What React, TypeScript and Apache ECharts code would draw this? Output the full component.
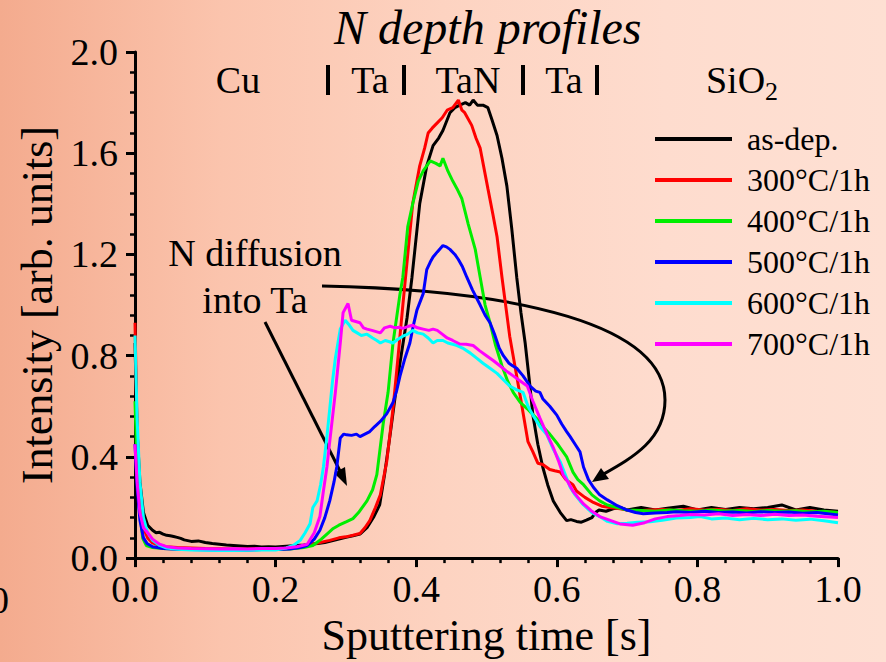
import React, { useEffect, useRef } from "react";
import * as echarts from "echarts";

const FONT = "'Liberation Serif', 'Times New Roman', serif";

const seriesNames = ["as-dep.", "300°C/1h", "400°C/1h", "500°C/1h", "600°C/1h", "700°C/1h"];
const seriesColors = ["#000000", "#ff0000", "#00ee00", "#0000ff", "#00ffff", "#ff00ff"];

const xTicks = [0, 0.2, 0.4, 0.6, 0.8, 1.0];
const yTicks = [0, 0.4, 0.8, 1.2, 1.6, 2.0];

const asDep: number[][] = [
  [0, 0.85], [0.003, 0.5], [0.007, 0.3], [0.012, 0.18], [0.018, 0.13], [0.025, 0.11], [0.03, 0.1],
  [0.035, 0.102], [0.04, 0.095], [0.045, 0.09], [0.05, 0.088], [0.055, 0.085], [0.06, 0.082], [0.065, 0.078],
  [0.07, 0.072], [0.08, 0.066], [0.09, 0.068], [0.1, 0.062], [0.11, 0.058], [0.12, 0.055], [0.13, 0.052],
  [0.14, 0.05], [0.15, 0.048], [0.16, 0.046], [0.17, 0.047], [0.18, 0.044], [0.19, 0.045], [0.2, 0.044],
  [0.21, 0.046], [0.22, 0.048], [0.23, 0.05], [0.24, 0.052], [0.25, 0.055], [0.26, 0.058], [0.27, 0.062],
  [0.28, 0.068], [0.29, 0.075], [0.3, 0.082], [0.31, 0.088], [0.32, 0.095], [0.33, 0.12], [0.34, 0.165],
  [0.348, 0.21], [0.355, 0.33], [0.363, 0.49], [0.374, 0.72], [0.387, 0.95], [0.394, 1.11], [0.405, 1.4],
  [0.415, 1.55], [0.424, 1.63], [0.432, 1.66], [0.438, 1.69], [0.448, 1.76], [0.455, 1.78], [0.462, 1.79],
  [0.47, 1.8], [0.476, 1.79], [0.481, 1.81], [0.487, 1.79], [0.495, 1.79], [0.502, 1.78], [0.508, 1.73],
  [0.515, 1.67], [0.522, 1.58], [0.529, 1.47], [0.536, 1.3], [0.543, 1.11], [0.549, 0.97], [0.555, 0.85],
  [0.561, 0.7], [0.566, 0.565], [0.573, 0.45], [0.58, 0.36], [0.587, 0.29], [0.595, 0.226], [0.605, 0.18],
  [0.614, 0.148], [0.62, 0.152], [0.628, 0.145], [0.635, 0.142], [0.642, 0.15], [0.65, 0.16], [0.655, 0.18],
  [0.66, 0.19], [0.67, 0.185], [0.68, 0.195], [0.69, 0.2], [0.7, 0.19], [0.72, 0.2], [0.74, 0.19],
  [0.76, 0.198], [0.78, 0.205], [0.8, 0.19], [0.82, 0.2], [0.84, 0.192], [0.86, 0.2], [0.88, 0.195],
  [0.9, 0.2], [0.92, 0.21], [0.94, 0.19], [0.96, 0.2], [0.98, 0.19], [1.0, 0.185],
];

const c300: number[][] = [
  [0, 0.93], [0.003, 0.5], [0.007, 0.25], [0.012, 0.12], [0.018, 0.08], [0.025, 0.06], [0.035, 0.05],
  [0.045, 0.045], [0.06, 0.042], [0.08, 0.04], [0.1, 0.038], [0.12, 0.037], [0.14, 0.036], [0.16, 0.036],
  [0.18, 0.037], [0.2, 0.036], [0.22, 0.038], [0.235, 0.042], [0.245, 0.05], [0.26, 0.06], [0.277, 0.07],
  [0.29, 0.08], [0.3, 0.084], [0.31, 0.09], [0.32, 0.097], [0.327, 0.12], [0.334, 0.148], [0.342, 0.2],
  [0.349, 0.25], [0.358, 0.38], [0.367, 0.59], [0.374, 0.79], [0.381, 1.0], [0.388, 1.2], [0.395, 1.4],
  [0.405, 1.55], [0.412, 1.62], [0.417, 1.68], [0.423, 1.7], [0.43, 1.72], [0.437, 1.74], [0.444, 1.77],
  [0.452, 1.78], [0.46, 1.81], [0.465, 1.77], [0.469, 1.76], [0.479, 1.71], [0.485, 1.66], [0.491, 1.62],
  [0.502, 1.46], [0.509, 1.36], [0.515, 1.27], [0.522, 1.11], [0.533, 0.877], [0.541, 0.75], [0.548, 0.64],
  [0.559, 0.46], [0.566, 0.42], [0.573, 0.375], [0.58, 0.37], [0.59, 0.35], [0.597, 0.345], [0.605, 0.34],
  [0.613, 0.31], [0.623, 0.29], [0.628, 0.265], [0.64, 0.24], [0.652, 0.22], [0.664, 0.205], [0.676, 0.2],
  [0.69, 0.195], [0.71, 0.185], [0.73, 0.19], [0.75, 0.192], [0.77, 0.188], [0.79, 0.195], [0.81, 0.19],
  [0.83, 0.193], [0.85, 0.188], [0.87, 0.195], [0.89, 0.19], [0.91, 0.192], [0.93, 0.188], [0.95, 0.19],
  [0.97, 0.185], [1.0, 0.18],
];

const c400: number[][] = [
  [0, 0.62], [0.003, 0.35], [0.007, 0.18], [0.011, 0.078], [0.016, 0.05], [0.025, 0.042], [0.04, 0.038],
  [0.06, 0.036], [0.08, 0.035], [0.1, 0.034], [0.12, 0.033], [0.14, 0.034], [0.16, 0.033], [0.18, 0.034],
  [0.2, 0.035], [0.22, 0.036], [0.24, 0.042], [0.253, 0.05], [0.265, 0.075], [0.275, 0.1], [0.282, 0.117],
  [0.29, 0.13], [0.301, 0.144], [0.31, 0.156], [0.318, 0.18], [0.33, 0.226], [0.338, 0.27], [0.344, 0.33],
  [0.353, 0.53], [0.36, 0.655], [0.367, 0.85], [0.377, 1.045], [0.381, 1.11], [0.388, 1.31], [0.395, 1.4],
  [0.403, 1.49], [0.41, 1.53], [0.42, 1.57], [0.428, 1.56], [0.434, 1.55], [0.438, 1.58], [0.445, 1.53],
  [0.452, 1.49], [0.458, 1.46], [0.465, 1.42], [0.474, 1.32], [0.484, 1.22], [0.491, 1.11], [0.498, 1.0],
  [0.505, 0.93], [0.513, 0.84], [0.522, 0.76], [0.53, 0.7], [0.538, 0.655], [0.548, 0.615], [0.558, 0.59],
  [0.565, 0.57], [0.572, 0.55], [0.58, 0.52], [0.59, 0.49], [0.6, 0.455], [0.609, 0.42], [0.614, 0.4],
  [0.623, 0.34], [0.63, 0.31], [0.638, 0.29], [0.65, 0.25], [0.661, 0.226], [0.672, 0.21], [0.686, 0.2],
  [0.7, 0.19], [0.72, 0.188], [0.74, 0.185], [0.76, 0.19], [0.78, 0.187], [0.8, 0.185], [0.82, 0.19],
  [0.84, 0.186], [0.86, 0.188], [0.88, 0.184], [0.9, 0.188], [0.92, 0.185], [0.94, 0.187], [0.96, 0.183],
  [0.98, 0.185], [1.0, 0.18],
];

const c500: number[][] = [
  [0, 0.45], [0.003, 0.28], [0.007, 0.15], [0.012, 0.08], [0.017, 0.058], [0.025, 0.045], [0.04, 0.038],
  [0.06, 0.035], [0.08, 0.034], [0.1, 0.033], [0.12, 0.032], [0.14, 0.033], [0.16, 0.032], [0.18, 0.034],
  [0.2, 0.034], [0.22, 0.036], [0.235, 0.042], [0.245, 0.05], [0.255, 0.075], [0.263, 0.11], [0.27, 0.16],
  [0.277, 0.226], [0.283, 0.3], [0.287, 0.36], [0.292, 0.475], [0.297, 0.49], [0.301, 0.487], [0.308, 0.485],
  [0.315, 0.49], [0.32, 0.48], [0.327, 0.49], [0.334, 0.5], [0.341, 0.52], [0.349, 0.54], [0.358, 0.57],
  [0.367, 0.615], [0.372, 0.66], [0.377, 0.72], [0.384, 0.79], [0.391, 0.85], [0.396, 0.92], [0.401, 0.98],
  [0.41, 1.045], [0.415, 1.14], [0.42, 1.17], [0.424, 1.19], [0.43, 1.21], [0.438, 1.235], [0.443, 1.23],
  [0.448, 1.22], [0.455, 1.2], [0.46, 1.18], [0.466, 1.15], [0.472, 1.11], [0.48, 1.06], [0.491, 1.0],
  [0.498, 0.96], [0.505, 0.93], [0.512, 0.88], [0.518, 0.83], [0.524, 0.8], [0.532, 0.77], [0.537, 0.76],
  [0.543, 0.75], [0.552, 0.72], [0.562, 0.68], [0.57, 0.66], [0.576, 0.655], [0.58, 0.63], [0.59, 0.6],
  [0.6, 0.565], [0.607, 0.53], [0.614, 0.5], [0.619, 0.48], [0.626, 0.45], [0.633, 0.42], [0.638, 0.36],
  [0.645, 0.31], [0.652, 0.28], [0.661, 0.25], [0.672, 0.23], [0.686, 0.207], [0.7, 0.19], [0.712, 0.18],
  [0.723, 0.175], [0.74, 0.178], [0.757, 0.18], [0.77, 0.183], [0.79, 0.18], [0.81, 0.185], [0.83, 0.18],
  [0.85, 0.182], [0.87, 0.178], [0.89, 0.183], [0.91, 0.18], [0.93, 0.182], [0.95, 0.177], [0.97, 0.18],
  [1.0, 0.17],
];

const c600: number[][] = [
  [0, 0.88], [0.003, 0.55], [0.007, 0.3], [0.012, 0.16], [0.018, 0.1], [0.025, 0.07], [0.035, 0.05],
  [0.045, 0.04], [0.06, 0.035], [0.08, 0.032], [0.1, 0.031], [0.12, 0.03], [0.14, 0.03], [0.16, 0.031],
  [0.18, 0.032], [0.2, 0.032], [0.215, 0.04], [0.225, 0.05], [0.235, 0.07], [0.242, 0.1], [0.249, 0.136],
  [0.253, 0.2], [0.259, 0.226], [0.264, 0.29], [0.268, 0.36], [0.273, 0.48], [0.277, 0.59], [0.281, 0.7],
  [0.285, 0.79], [0.292, 0.905], [0.299, 0.94], [0.305, 0.92], [0.31, 0.9], [0.316, 0.89], [0.322, 0.88],
  [0.33, 0.885], [0.338, 0.87], [0.344, 0.86], [0.349, 0.85], [0.356, 0.86], [0.362, 0.855], [0.367, 0.85],
  [0.374, 0.865], [0.381, 0.877], [0.388, 0.885], [0.395, 0.9], [0.402, 0.89], [0.41, 0.885], [0.417, 0.87],
  [0.424, 0.85], [0.43, 0.86], [0.438, 0.86], [0.445, 0.85], [0.452, 0.845], [0.458, 0.84], [0.466, 0.83],
  [0.477, 0.81], [0.486, 0.79], [0.495, 0.77], [0.505, 0.75], [0.515, 0.73], [0.524, 0.705], [0.533, 0.68],
  [0.543, 0.665], [0.552, 0.655], [0.559, 0.6], [0.566, 0.565], [0.576, 0.52], [0.586, 0.487], [0.595, 0.43],
  [0.605, 0.38], [0.612, 0.33], [0.619, 0.28], [0.626, 0.25], [0.633, 0.226], [0.638, 0.21], [0.65, 0.18],
  [0.661, 0.164], [0.672, 0.145], [0.686, 0.136], [0.7, 0.138], [0.715, 0.142], [0.733, 0.144], [0.75, 0.15],
  [0.77, 0.158], [0.79, 0.16], [0.804, 0.164], [0.82, 0.155], [0.84, 0.158], [0.86, 0.152], [0.88, 0.157],
  [0.9, 0.152], [0.92, 0.155], [0.94, 0.15], [0.96, 0.154], [0.98, 0.148], [1.0, 0.14],
];

const c700: number[][] = [
  [0, 0.45], [0.003, 0.3], [0.007, 0.18], [0.012, 0.12], [0.018, 0.1], [0.025, 0.075], [0.035, 0.055],
  [0.045, 0.045], [0.06, 0.04], [0.08, 0.038], [0.1, 0.037], [0.12, 0.036], [0.14, 0.037], [0.16, 0.036],
  [0.18, 0.038], [0.2, 0.038], [0.215, 0.04], [0.23, 0.045], [0.245, 0.055], [0.255, 0.1], [0.263, 0.164],
  [0.268, 0.265], [0.273, 0.36], [0.277, 0.46], [0.285, 0.655], [0.292, 0.85], [0.296, 0.97], [0.303, 1.006],
  [0.308, 0.94], [0.314, 0.935], [0.32, 0.93], [0.325, 0.91], [0.33, 0.905], [0.337, 0.9], [0.343, 0.895],
  [0.349, 0.89], [0.355, 0.91], [0.363, 0.916], [0.37, 0.91], [0.376, 0.912], [0.381, 0.908], [0.388, 0.915],
  [0.395, 0.92], [0.402, 0.91], [0.41, 0.905], [0.418, 0.9], [0.424, 0.905], [0.43, 0.9], [0.437, 0.885],
  [0.444, 0.87], [0.452, 0.86], [0.462, 0.846], [0.471, 0.845], [0.481, 0.84], [0.49, 0.82], [0.5, 0.8],
  [0.51, 0.78], [0.519, 0.76], [0.528, 0.74], [0.538, 0.72], [0.548, 0.7], [0.558, 0.68], [0.566, 0.62],
  [0.576, 0.553], [0.586, 0.49], [0.595, 0.437], [0.603, 0.38], [0.609, 0.33], [0.616, 0.3], [0.623, 0.265],
  [0.63, 0.24], [0.638, 0.214], [0.65, 0.185], [0.661, 0.164], [0.675, 0.15], [0.69, 0.135], [0.708, 0.13],
  [0.725, 0.14], [0.74, 0.155], [0.757, 0.164], [0.775, 0.168], [0.79, 0.172], [0.81, 0.17], [0.83, 0.175],
  [0.85, 0.168], [0.87, 0.172], [0.89, 0.168], [0.91, 0.173], [0.93, 0.168], [0.95, 0.17], [0.97, 0.165],
  [1.0, 0.16],
];

const seriesData = [asDep, c300, c400, c500, c600, c700];

const layerLabels = [
  { text: "Cu", x: 238 },
  { text: "Ta", x: 370 },
  { text: "TaN", x: 468 },
  { text: "Ta", x: 564 },
];
const layerBars = [328, 404, 523, 597];

function App() {
  const ref = useRef<HTMLDivElement>(null);

  useEffect(() => {
    document.body.style.margin = "0";
    if (!ref.current) return;
    const chart = echarts.init(ref.current, undefined, { renderer: "svg" });

    const axisCommon = {
      axisLine: { show: true, lineStyle: { color: "#000", width: 3 } },
      axisTick: { show: true, inside: false, length: 9, lineStyle: { color: "#000", width: 3 } },
      minorTick: { show: true, splitNumber: 5, length: 5, lineStyle: { color: "#000", width: 2.5 } },
      splitLine: { show: false },
      minorSplitLine: { show: false },
      nameTextStyle: { fontFamily: FONT, fontSize: 44, color: "#000" },
    };

    const graphics: any[] = [
      {
        type: "text",
        left: 334,
        top: 3,
        style: { text: "N depth profiles", fontFamily: FONT, fontSize: 48, fontStyle: "italic", fill: "#000" },
      },
      ...layerLabels.map((l) => ({
        type: "text",
        x: l.x,
        y: 80,
        style: { text: l.text, fontFamily: FONT, fontSize: 38, fill: "#000", align: "center", verticalAlign: "middle" },
      })),
      {
        type: "text",
        x: 742,
        y: 80,
        style: {
          text: "{a|SiO}{b|2}",
          fontFamily: FONT,
          align: "center",
          verticalAlign: "middle",
          rich: {
            a: { fontFamily: FONT, fontSize: 38, fill: "#000" },
            b: { fontFamily: FONT, fontSize: 26, fill: "#000", padding: [22, 0, 0, 0] },
          },
        },
      },
      ...layerBars.map((x) => ({
        type: "line",
        shape: { x1: x, y1: 65, x2: x, y2: 95 },
        style: { stroke: "#000", lineWidth: 4 },
      })),
      {
        type: "text",
        x: 255,
        y: 253,
        style: { text: "N diffusion", fontFamily: FONT, fontSize: 38, fill: "#000", align: "center", verticalAlign: "middle" },
      },
      {
        type: "text",
        x: 255,
        y: 300,
        style: { text: "into Ta", fontFamily: FONT, fontSize: 38, fill: "#000", align: "center", verticalAlign: "middle" },
      },
      {
        type: "text",
        x: 9,
        y: 600,
        style: { text: "0", fontFamily: FONT, fontSize: 38, fill: "#000", align: "right", verticalAlign: "middle" },
      },
      {
        type: "line",
        shape: { x1: 265, y1: 322, x2: 341, y2: 473 },
        style: { stroke: "#000", lineWidth: 3 },
      },
      {
        type: "polygon",
        shape: { points: [[347, 486], [345, 467], [334, 473]] },
        style: { fill: "#000" },
      },
      {
        type: "bezierCurve",
        shape: { x1: 322, y1: 286, cpx1: 520, cpy1: 290, cpx2: 665, cpy2: 325, x2: 665, y2: 400 },
        style: { stroke: "#000", lineWidth: 3, fill: "none" },
      },
      {
        type: "bezierCurve",
        shape: { x1: 665, y1: 400, cpx1: 665, cpy1: 440, cpx2: 632, cpy2: 458, x2: 602, y2: 475 },
        style: { stroke: "#000", lineWidth: 3, fill: "none" },
      },
      {
        type: "polygon",
        shape: { points: [[592, 482], [601, 468], [609, 479]] },
        style: { fill: "#000" },
      },
    ];

    chart.setOption({
      animation: false,
      backgroundColor: "transparent",
      grid: { left: 135, right: 48, top: 52, bottom: 97, containLabel: false },
      legend: {
        orient: "vertical",
        left: 655,
        top: 123,
        padding: 0,
        icon: "rect",
        itemWidth: 77,
        itemHeight: 4,
        itemGap: 9,
        data: seriesNames,
        textStyle: { fontFamily: FONT, fontSize: 32, color: "#000", padding: [0, 0, 0, 10] },
      },
      xAxis: {
        type: "value",
        min: 0,
        max: 1,
        interval: 0.2,
        name: "Sputtering time [s]",
        nameLocation: "middle",
        nameGap: 44,
        ...axisCommon,
        axisLabel: {
          fontFamily: FONT,
          fontSize: 38,
          color: "#000",
          margin: 12,
          formatter: (v: number) => v.toFixed(1),
        },
      },
      yAxis: {
        type: "value",
        min: 0,
        max: 2,
        interval: 0.4,
        name: "Intensity [arb. units]",
        nameLocation: "middle",
        nameGap: 76,
        ...axisCommon,
        axisLabel: {
          fontFamily: FONT,
          fontSize: 38,
          color: "#000",
          margin: 17,
          formatter: (v: number) => v.toFixed(1),
        },
      },
      series: seriesNames.map((name, i) => ({
        name,
        type: "line",
        data: seriesData[i],
        symbol: "none",
        showSymbol: false,
        color: seriesColors[i],
        lineStyle: { color: seriesColors[i], width: 3 },
        clip: true,
      })),
      graphic: graphics,
    });

    return () => chart.dispose();
  }, []);

  return (
    <div
      style={{
        width: 886,
        height: 662,
        background: "linear-gradient(to right, #f4ab8e 0%, #fbc4ad 25%, #fdd3c1 50%, #fedcce 75%, #fee0d3 100%)",
      }}
    >
      <div ref={ref} style={{ width: 886, height: 662 }} />
    </div>
  );
}

export default App;
